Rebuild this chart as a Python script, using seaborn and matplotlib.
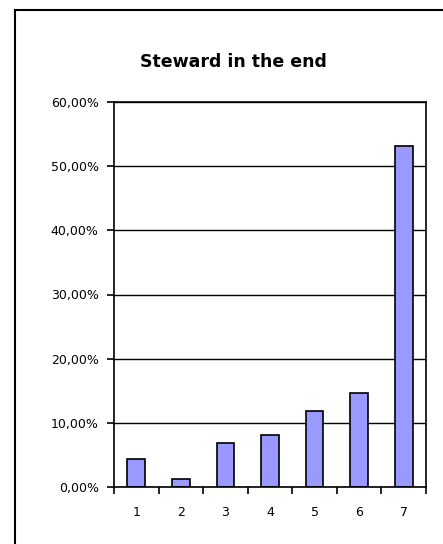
import matplotlib
matplotlib.use("Agg")
import matplotlib.pyplot as plt
import seaborn as sns
import pandas as pd
from matplotlib.patches import Rectangle
from matplotlib.ticker import FuncFormatter, FixedLocator

# data
categories = ["1", "2", "3", "4", "5", "6", "7"]
shares = [0.044, 0.013, 0.069, 0.081, 0.119, 0.147, 0.532]
y_ticks = [0.0, 0.1, 0.2, 0.3, 0.4, 0.5, 0.6]
title = "Steward in the end"

df = pd.DataFrame({"answer": categories, "share": shares})

sns.set_style("white")
plt.rcParams["font.family"] = ["DejaVu Sans"]
plt.rcParams["text.color"] = "black"
plt.rcParams["xtick.color"] = "black"
plt.rcParams["ytick.color"] = "black"

fig = plt.figure(figsize=(4.43, 5.44), dpi=100)
W, H = 443, 544
ax = fig.add_axes([114 / W, 1 - 487 / H, 312 / W, 385 / H])

sns.barplot(data=df, x="answer", y="share", color="#9999ff", saturation=1,
            edgecolor="black", linewidth=1.2, width=0.4, ax=ax)

ax.set_ylim(0, 0.6)
ax.set_xlim(-0.5, len(categories) - 0.5)
ax.set_yticks(y_ticks)
ax.yaxis.set_major_formatter(FuncFormatter(lambda v, p: f"{v * 100:.2f}".replace(".", ",") + "%"))
ax.grid(axis="y", color="black", linewidth=1.0)
ax.set_axisbelow(True)

# ticks between categories on the x axis
ax.xaxis.set_minor_locator(FixedLocator([i - 0.5 for i in range(len(categories) + 1)]))
ax.tick_params(axis="x", which="major", bottom=True, length=0, pad=14, labelsize=9)
ax.tick_params(axis="x", which="minor", bottom=True, length=5, width=1.2,
               direction="out", color="black")
ax.tick_params(axis="y", which="major", left=True, length=5, width=1.2, direction="out",
               color="black", labelsize=9, pad=6)
ax.set_xlabel("")
ax.set_ylabel("")
for s in ax.spines.values():
    s.set_color("black")
    s.set_linewidth(1.2)

fig.text(233 / W, 1 - 62 / H, title, ha="center", va="center",
         fontsize=12.5, fontweight="bold", color="black")

# outer chart frame, running off the right and bottom edges
fig.patches.append(Rectangle((15 / W, -0.05), 1.0, 1 - 10 / H + 0.05,
                             transform=fig.transFigure, fill=False,
                             edgecolor="black", linewidth=1.5))

fig.savefig("out.png", dpi=100)
